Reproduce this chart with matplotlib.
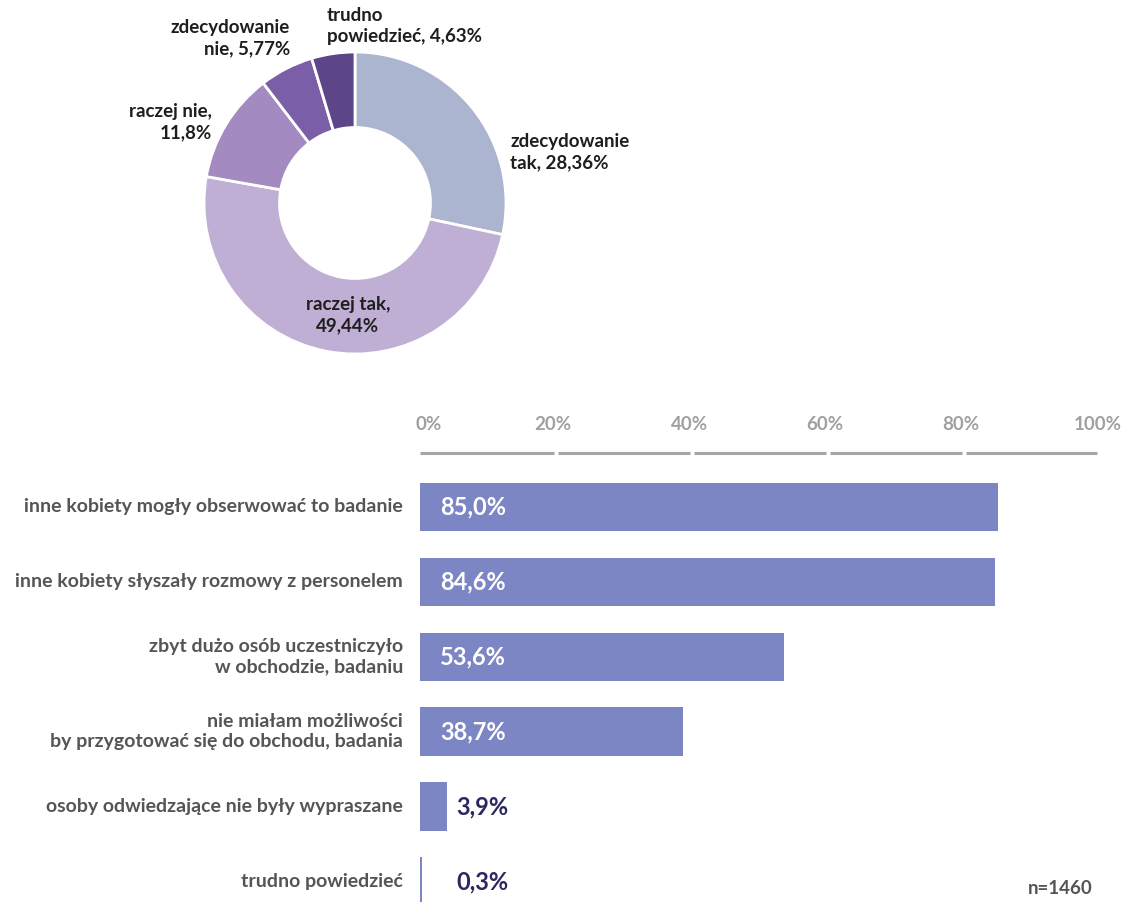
import numpy as np
import matplotlib
matplotlib.use("Agg")
import matplotlib.pyplot as plt

plt.rcParams['font.family'] = ['Lato', 'DejaVu Sans']

# donut data
pie_labels = ["zdecydowanie\ntak, 28,36%", "raczej tak,\n49,44%", "raczej nie,\n11,8%",
              "zdecydowanie\nnie, 5,77%", "trudno\npowiedzieć, 4,63%"]
pie_values = [28.36, 49.44, 11.8, 5.77, 4.63]
pie_colors = ["#abb5cf", "#bfafd5", "#a38bc1", "#7b5ea8", "#5c4589"]

# bar data
bar_cats = ["inne kobiety mogły obserwować to badanie",
            "inne kobiety słyszały rozmowy z personelem",
            "zbyt dużo osób uczestniczyło\nw obchodzie, badaniu",
            "nie miałam możliwości\nby przygotować się do obchodu, badania",
            "osoby odwiedzające nie były wypraszane",
            "trudno powiedzieć"]
bar_values = [85.0, 84.6, 53.6, 38.7, 3.9, 0.3]
ticks = [0, 20, 40, 60, 80, 100]

W, H = 1126, 902
fig = plt.figure(figsize=(W / 100, H / 100), dpi=100)

# ---- donut ----
cx, cy, R = 355, 203, 151
axp = fig.add_axes([0, 0.5, 1, 0.5])
axp.pie(pie_values, colors=pie_colors, startangle=90, counterclock=False,
        radius=1, wedgeprops=dict(width=0.5, edgecolor="white", linewidth=2))
axp.set_xlim((0 - cx) / R, (W - cx) / R)
axp.set_ylim((cy - 451) / R, cy / R)
axp.set_aspect('auto')
axp.axis('off')

def px(x, y):
    return (x - cx) / R, (cy - y) / R

lab_pos = [(510, 152, 'left'), (348, 315, 'center'), (212, 122, 'right'),
           (290, 38, 'right'), (327, 26, 'left')]
for lab, (x, y, ha) in zip(pie_labels, lab_pos):
    u, v = px(x, y)
    axp.text(u, v, lab, ha=ha, va='center', multialignment=ha, fontsize=13.5,
             fontweight='bold', color="#1e1e1e", linespacing=1.3)

# ---- bars ----
x0, x1 = 420, 1100
axb = fig.add_axes([x0 / W, 0, (x1 - x0) / W, 1 - 453 / H])
y = np.arange(len(bar_values))
axb.barh(y, bar_values, height=0.65, color="#7d86c4")
axb.set_xlim(0, 100)
axb.set_ylim(5.27, -0.72)
for s in axb.spines.values():
    s.set_visible(False)
axb.set_xticks([])
axb.set_yticks([])

# axis line in segments with small gaps
for a, b in zip(ticks[:-1], ticks[1:]):
    axb.plot([a + 0.3 if a else a, b - 0.3 if b < 100 else b - 0.5], [-0.72, -0.72],
             color="#a6a6a6", lw=2.2, clip_on=False, solid_capstyle='butt')
for t in ticks:
    axb.text(t + (1.2 if t == 0 else -0.4), -1.1, f"{t}%", ha='center', va='center',
             fontsize=13.5, fontweight='bold', color="#a0a0a0", clip_on=False)

for yi, (cat, v) in enumerate(zip(bar_cats, bar_values)):
    axb.text(-2.5, yi, cat, ha='right', va='center', multialignment='right',
             fontsize=14, fontweight='bold', color="#555555", linespacing=1.2)
    lab = f"{v:.1f}%".replace('.', ',')
    if v > 10:
        axb.text(3, yi, lab, ha='left', va='center', fontsize=17,
                 fontweight='bold', color="white")
    else:
        axb.text(5.3, yi, lab, ha='left', va='center', fontsize=17,
                 fontweight='bold', color="#2b2760")

fig.text(1060 / W, 1 - 888 / H, "n=1460", ha='center', va='center', fontsize=13.5,
         fontweight='bold', color="#555555")

fig.savefig("out.png", dpi=100)
